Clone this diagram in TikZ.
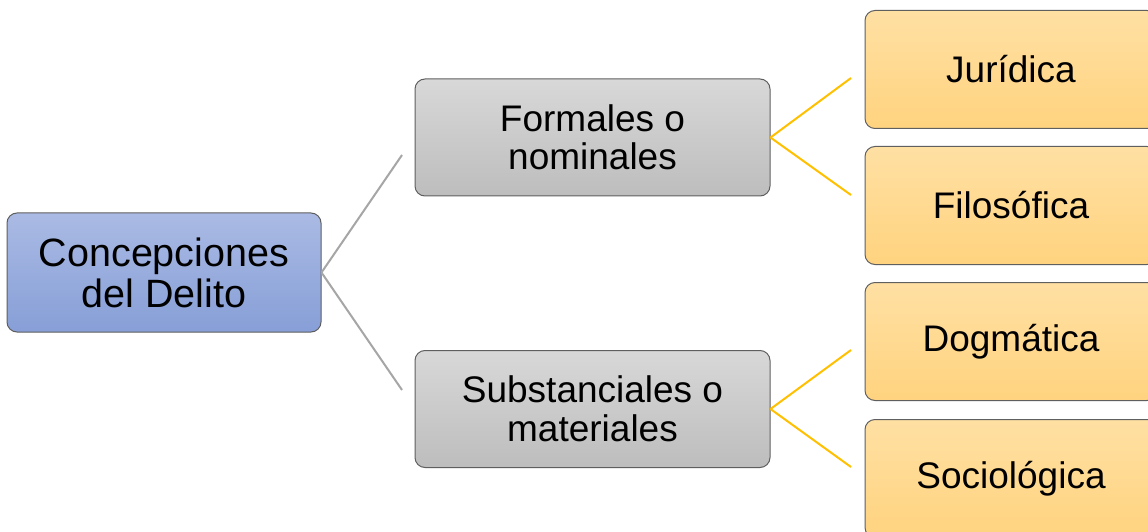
\documentclass[tikz,border=0pt]{standalone}
\usepackage{fontspec}
\setmainfont{Liberation Sans}
\definecolor{rootTop}{HTML}{AABAE4}
\definecolor{rootBot}{HTML}{879FD7}
\definecolor{greyTop}{HTML}{D8D8D8}
\definecolor{greyBot}{HTML}{BDBDBD}
\definecolor{goldTop}{HTML}{FFE0A3}
\definecolor{goldBot}{HTML}{FFD37F}
\definecolor{edgeCol}{HTML}{5F5F5F}
\definecolor{greyLine}{HTML}{A6A6A6}
\definecolor{goldLine}{HTML}{FFC000}
\begin{document}
\begin{tikzpicture}[x=1pt,y=1pt,
  boxbase/.style={draw=edgeCol, line width=1pt, rounded corners=10pt, align=center, inner sep=0pt, text=black},
  rootbox/.style={boxbase, top color=rootTop, bottom color=rootBot, minimum width=314pt, minimum height=119pt, font=\fontsize{39.5}{41}\selectfont},
  midbox/.style={boxbase, top color=greyTop, bottom color=greyBot, minimum width=355pt, minimum height=117pt, font=\fontsize{37}{38.5}\selectfont},
  leafbox/.style={boxbase, top color=goldTop, bottom color=goldBot, minimum width=292pt, minimum height=118pt, font=\fontsize{37}{38.5}\selectfont},
  greyconn/.style={draw=greyLine, line width=2pt},
  goldconn/.style={draw=goldLine, line width=2pt}]
\useasboundingbox (0,0) rectangle (1148,531);
\clip (0,0) rectangle (1148,531);
\fill[white] (0,0) rectangle (1148,531);
\node[rootbox] (root) at (164,258.5) {Concepciones\\del Delito};
\node[midbox] (form) at (592.5,393.5) {Formales o\\nominales};
\node[midbox] (subs) at (592.5,122) {Substanciales o\\materiales};
\node[leafbox] (jur) at (1011,461.5) {Jurídica};
\node[leafbox] (fil) at (1011,325.5) {Filosófica};
\node[leafbox] (dog) at (1011,189.5) {Dogmática};
\node[leafbox] (soc) at (1011,52.5) {Sociológica};
\coordinate (g1) at (402,376);
\coordinate (g2) at (402,141);
\coordinate (y1) at (851,453);
\coordinate (y2) at (851,336);
\coordinate (y3) at (851,181);
\coordinate (y4) at (851,64);
\draw[greyconn] (root.east) -- (g1);
\draw[greyconn] (root.east) -- (g2);
\draw[goldconn] (form.east) -- (y1);
\draw[goldconn] (form.east) -- (y2);
\draw[goldconn] (subs.east) -- (y3);
\draw[goldconn] (subs.east) -- (y4);
\end{tikzpicture}
\end{document}
